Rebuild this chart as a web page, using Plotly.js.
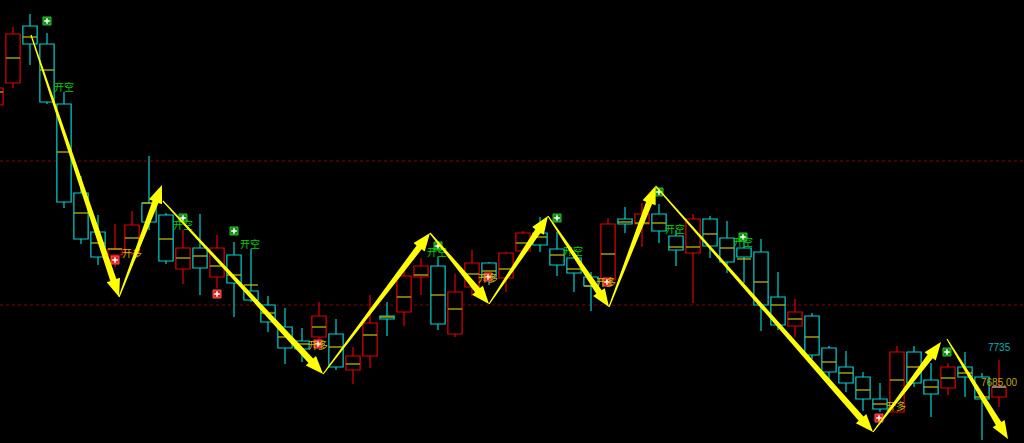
<!DOCTYPE html>
<html><head><meta charset="utf-8">
<script src="https://cdn.plot.ly/plotly-3.0.1.min.js"></script>
<style>html,body{margin:0;padding:0;background:#000;overflow:hidden}#chart{width:1024px;height:443px}</style>
</head><body><div id="chart"></div>
<script>
// ---- candle data (bar index, price) ----
const open  = [7967,7989,8046,8028,7968,7879,7840,7817,7819,7869,7857,7803,7824,7795,7817,7781,7767,7745,7731,7735,7738,7702,7716,7756,7760,7795,7806,7738,7785,7809,7794,7821,7839,7823,7814,7795,7792,7853,7848,7858,7836,7819,7853,7834,7824,7820,7775,7746,7756,7724,7705,7695,7673,7660,7720,7692,7684,7705,7695,7675];
const close = [7984,8038,8028,7970,7870,7833,7815,7823,7847,7850,7811,7824,7804,7824,7789,7772,7750,7724,7723,7756,7705,7716,7749,7753,7796,7806,7748,7780,7809,7795,7819,7839,7827,7807,7799,7786,7848,7848,7858,7841,7822,7853,7826,7810,7815,7767,7747,7760,7717,7700,7689,7673,7663,7720,7689,7678,7705,7695,7673,7685];
const high  = [7987,8045,8058,8039,7980,7896,7857,7848,7861,7916,7859,7842,7858,7837,7830,7823,7776,7764,7744,7770,7753,7725,7777,7770,7804,7814,7815,7798,7822,7810,7820,7841,7855,7840,7817,7800,7854,7865,7869,7868,7842,7858,7856,7851,7832,7833,7800,7773,7759,7726,7721,7700,7689,7726,7726,7709,7709,7720,7699,7712];
const low   = [7964,7984,8007,7968,7864,7828,7807,7805,7817,7842,7808,7788,7777,7784,7755,7770,7740,7708,7710,7727,7702,7688,7704,7736,7746,7777,7742,7735,7776,7787,7780,7819,7820,7796,7780,7761,7790,7839,7825,7829,7806,7769,7814,7799,7789,7741,7742,7735,7713,7692,7680,7661,7660,7659,7685,7655,7677,7675,7632,7665];
const avgLine = [7980,8014,8035,8002,7920,7859,7829,7823,7834,7869,7833,7814,7816,7806,7797,7787,7759,7735,7728,7745,7725,7708,7737,7755,7775,7797,7777,7763,7798,7801,7803,7829,7835,7817,7803,7786,7818,7850,7849,7849,7825,7825,7838,7824,7813,7790,7767,7753,7735,7710,7699,7682,7668,7692,7705,7685,7694,7699,7675,7685];

// ---- zigzag arrows (bar index, price) ----
const arrowFromI = [2.06, 7.24, 9.82, 19.24, 25.53, 29.0, 32.47, 36.06, 38.8, 51.59, 55.94];
const arrowFromP = [8037, 7775, 7871, 7698, 7839, 7768, 7856, 7765, 7886, 7640, 7733];
const arrowToI   = [7.24, 9.76, 19.24, 25.53, 29.0, 32.47, 36.06, 38.8, 51.59, 55.59, 59.53];
const arrowToP   = [7775, 7887, 7698, 7839, 7768, 7856, 7765, 7886, 7640, 7730, 7633];

// ---- signals ----
const shortMarkI = [3.0, 11.0, 14.0, 26.0, 33.0, 39.0, 43.94, 55.94];
const shortMarkP = [8051, 7854, 7841, 7826, 7854, 7880, 7835, 7720];
const longMarkI  = [7.0, 13.0, 18.94, 28.94, 35.94, 51.94];
const longMarkP  = [7812, 7778, 7728, 7795, 7790, 7654];
const shortTextI = [4.0, 11.0, 14.94, 25.94, 33.94, 39.94, 43.94];
const shortTextP = [7984, 7846, 7827, 7819, 7820, 7842, 7829];
const longTextI  = [8.0, 18.94, 28.94, 35.88, 52.94];
const longTextP  = [7818, 7726, 7793, 7789, 7665];
const shortLabel = '开空';
const longLabel  = '开多';

// ---- reference levels ----
const gridLevels = [7911, 7767];
const highLabel = '7735';
const lastLabel = '7685.00';

const W = 1024, H = 443;
const xr = [4/17, 1028/17], yr = [7629, 8072];
const toPx = i => (i - xr[0]) / (xr[1] - xr[0]) * W;
const toPy = p => (yr[1] - p) / (yr[1] - yr[0]) * H;
const toDx = X => xr[0] + X / W * (xr[1] - xr[0]);
const toDy = Y => yr[1] - Y / H * (yr[1] - yr[0]);

const RED = '#e00000', CYAN = '#00d2d2', AVG = '#c8c400';
const n = open.length;
const idx = open.map((_, i) => i);

// bodies
const base = [], hgt = [], lineCol = [];
for (let i = 0; i < n; i++) {
  base.push(Math.min(open[i], close[i]));
  hgt.push(Math.max(Math.abs(close[i] - open[i]), 0.6));
  lineCol.push(close[i] >= open[i] ? RED : CYAN);
}
// wicks
const upW = {x: [], y: []}, dnW = {x: [], y: []};
for (let i = 0; i < n; i++) {
  const t = Math.max(open[i], close[i]), b = Math.min(open[i], close[i]);
  const w = close[i] >= open[i] ? upW : dnW;
  w.x.push(i, i, null, i, i, null);
  w.y.push(high[i], t, null, b, low[i], null);
}
// avg segments
const avX = [], avY = [];
for (let i = 0; i < n - 1; i++) { avX.push(i - 0.41, i + 0.41, null); avY.push(avgLine[i], avgLine[i], null); }
const lastX = [n - 1 - 0.41, n - 1 + 0.41], lastY = [avgLine[n - 1], avgLine[n - 1]];

const traces = [
  {type: 'bar', x: idx, base: base, y: hgt, width: 0.84,
   marker: {color: '#000', line: {color: lineCol, width: 1.2}}, hoverinfo: 'skip'},
  {type: 'scatter', mode: 'lines', x: upW.x, y: upW.y, line: {color: RED, width: 1.2}, hoverinfo: 'skip'},
  {type: 'scatter', mode: 'lines', x: dnW.x, y: dnW.y, line: {color: CYAN, width: 1.2}, hoverinfo: 'skip'},
  {type: 'scatter', mode: 'lines', x: avX, y: avY, line: {color: AVG, width: 1.2}, hoverinfo: 'skip'},
  {type: 'scatter', mode: 'lines', x: lastX, y: lastY, line: {color: '#bdbdbd', width: 1.2}, hoverinfo: 'skip'},
  {type: 'scatter', mode: 'markers', x: shortMarkI, y: shortMarkP,
   marker: {symbol: 'square', size: 8, color: '#138a13', line: {color: '#2fbf2f', width: 1}}, hoverinfo: 'skip'},
  {type: 'scatter', mode: 'markers', x: shortMarkI, y: shortMarkP,
   marker: {symbol: 'cross-thin', size: 4, line: {color: '#ffffff', width: 1.5}}, hoverinfo: 'skip'},
  {type: 'scatter', mode: 'markers', x: longMarkI, y: longMarkP,
   marker: {symbol: 'square', size: 8, color: '#e81c1c', line: {color: '#ff5050', width: 1}}, hoverinfo: 'skip'},
  {type: 'scatter', mode: 'markers', x: longMarkI, y: longMarkP,
   marker: {symbol: 'cross-thin', size: 4, line: {color: '#ffffff', width: 1.5}}, hoverinfo: 'skip'},
  {type: 'scatter', mode: 'text', x: shortTextI, y: shortTextP, text: shortTextI.map(() => shortLabel),
   textfont: {family: 'Noto Sans CJK SC', size: 10, color: '#00d000'}, hoverinfo: 'skip'},
  {type: 'scatter', mode: 'text', x: longTextI, y: longTextP, text: longTextI.map(() => longLabel),
   textfont: {family: 'Noto Sans CJK SC', size: 10, color: '#c8b400'}, hoverinfo: 'skip'}
];

// tapered arrows as filled path shapes
const shapes = [];
gridLevels.forEach(g => shapes.push({type: 'line', xref: 'paper', x0: 0, x1: 1, yref: 'y', y0: g, y1: g,
  line: {color: '#8a0000', width: 1, dash: '3px,3px'}, layer: 'below'}));
for (let k = 0; k < arrowFromI.length; k++) {
  const sx = toPx(arrowFromI[k]), sy = toPy(arrowFromP[k]);
  const tx = toPx(arrowToI[k]), ty = toPy(arrowToP[k]);
  const L = Math.hypot(tx - sx, ty - sy);
  const ux = (tx - sx) / L, uy = (ty - sy) / L, nx = -uy, ny = ux;
  const hl = 18, hw = 7, sw = 3.2, w0 = 0.6;
  const bx = tx - ux * hl, by = ty - uy * hl;
  const pts = [
    [sx + nx * w0, sy + ny * w0], [bx + nx * sw, by + ny * sw], [bx + nx * hw, by + ny * hw],
    [tx, ty],
    [bx - nx * hw, by - ny * hw], [bx - nx * sw, by - ny * sw], [sx - nx * w0, sy - ny * w0]
  ];
  const path = 'M ' + pts.map(p => toDx(p[0]) + ',' + toDy(p[1])).join(' L ') + ' Z';
  shapes.push({type: 'path', xref: 'x', yref: 'y', path: path, fillcolor: '#ffff00', line: {width: 0}, layer: 'above'});
}

const layout = {
  width: W, height: H, margin: {l: 0, r: 0, t: 0, b: 0},
  paper_bgcolor: '#000', plot_bgcolor: '#000', showlegend: false,
  barmode: 'overlay',
  xaxis: {range: xr, showgrid: false, zeroline: false, showticklabels: false, ticks: '', showline: false, fixedrange: true},
  yaxis: {range: yr, showgrid: false, zeroline: false, showticklabels: false, ticks: '', showline: false, fixedrange: true},
  shapes: shapes,
  annotations: [
    {x: n - 1, y: 7725, xref: 'x', yref: 'y', text: highLabel, showarrow: false, xanchor: 'center',
     font: {family: 'Liberation Sans', size: 10, color: '#00b4b4'}},
    {x: n - 1, y: 7690, xref: 'x', yref: 'y', text: lastLabel, showarrow: false, xanchor: 'center',
     font: {family: 'Liberation Sans', size: 10, color: '#b8a800'}}
  ]
};
Plotly.newPlot('chart', traces, layout, {staticPlot: true, displayModeBar: false});
</script></body></html>
